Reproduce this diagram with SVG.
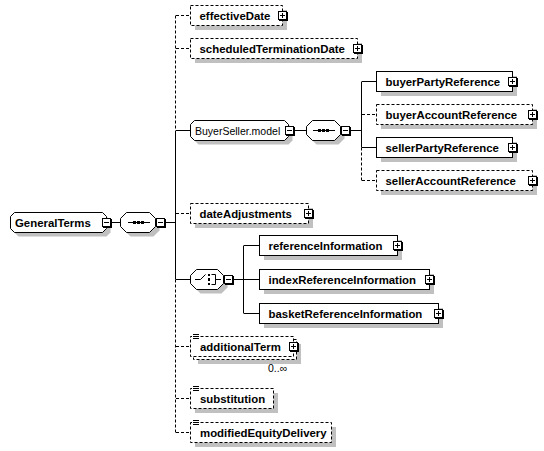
<svg xmlns="http://www.w3.org/2000/svg" width="544" height="451" viewBox="0 0 544 451">
<defs>
<style>
.b{fill:#fff;stroke:#000;stroke-width:1}
.d{stroke-dasharray:3 2}
.s{fill:#c0c0c0;stroke:none}
.l{fill:none;stroke:#000;stroke-width:1}
.t{font-family:"Liberation Sans",Arial,sans-serif;font-size:11.4px;font-weight:bold;fill:#000}
.r{font-family:"Liberation Sans",Arial,sans-serif;font-size:10.5px;fill:#000}
</style>
<g id="plus"><rect x="0.5" y="0.5" width="8" height="8" fill="#fff" stroke="#000"/><path d="M9.5 1v9M1 9.5h9M2 4.5h5M4.5 2v5" stroke="#000" fill="none"/></g>
<g id="minus"><rect x="0.5" y="0.5" width="8" height="8" fill="#fff" stroke="#000"/><path d="M9.5 1v9M1 9.5h9M2 4.5h5" stroke="#000" fill="none"/></g>
<g id="doc"><rect x="0" y="0" width="8" height="6" fill="#fff"/><path d="M1 0.5h6M1 2.5h6M1 4.5h6" stroke="#000" fill="none"/></g>
</defs>
<rect width="544" height="451" fill="#fff"/>

<g id="connectors" class="l">
<path d="M112 222.5H121"/>
<path d="M166 222.5H175.5"/>
<path class="d" d="M175.5 15.5V130.5"/>
<path d="M175.5 130.5V279.5"/>
<path class="d" d="M175.5 279.5V432.5"/>
<path class="d" d="M176 15.5H190M176 48.5H190M176 213.5H190M176 346.5H190M176 398.5H190M176 432.5H190"/>
<path d="M176 130.5H190M176 279.5H190"/>
<path d="M295 130.5H306.5"/>
<path d="M351 130.5H361.5"/>
<path d="M361.5 81.5V147.5M362 81.5H376M362 147.5H376"/>
<path class="d" d="M361.5 147.5V180.5M362 114.5H376M362 180.5H376"/>
<path d="M234 279.5H243.5M243.5 245.5V313.5M244 245.5H259M244 279.5H259M244 313.5H259"/>
</g>

<g id="GeneralTerms">
<polygon class="s" transform="translate(4,4)" points="14.5,212.5 102.5,212.5 106.5,216.5 106.5,228.5 102.5,232.5 14.5,232.5 10.5,228.5 10.5,216.5"/>
<polygon class="b" points="14.5,212.5 102.5,212.5 106.5,216.5 106.5,228.5 102.5,232.5 14.5,232.5 10.5,228.5 10.5,216.5"/>
<text class="t" x="15" y="226.5">GeneralTerms</text>
<use href="#minus" x="102" y="218"/>
</g>

<g id="sequence1">
<polygon class="s" transform="translate(4,4)" points="126.5,212.5 149.5,212.5 155.5,218.5 155.5,226.5 149.5,232.5 126.5,232.5 120.5,226.5 120.5,218.5"/>
<polygon class="b" points="126.5,212.5 149.5,212.5 155.5,218.5 155.5,226.5 149.5,232.5 126.5,232.5 120.5,226.5 120.5,218.5"/>
<path class="l" d="M128 222.5H150"/>
<rect x="133" y="221" width="3" height="3"/><rect x="137" y="221" width="3" height="3"/><rect x="141" y="221" width="3" height="3"/>
<use href="#minus" x="156" y="218"/>
</g>

<g id="effectiveDate">
<rect class="s" x="195" y="10" width="92" height="20"/>
<rect class="b d" x="190.5" y="5.5" width="92" height="20"/>
<text class="t" x="199.5" y="19.5">effectiveDate</text>
<use href="#plus" x="278" y="11"/>
</g>

<g id="scheduledTerminationDate">
<rect class="s" x="195" y="43" width="167" height="20"/>
<rect class="b d" x="190.5" y="38.5" width="167" height="20"/>
<text class="t" x="199.5" y="52.5">scheduledTerminationDate</text>
<use href="#plus" x="353" y="44"/>
</g>

<g id="BuyerSeller.model">
<polygon class="s" transform="translate(4,4)" points="194.5,120.5 284.5,120.5 288.5,124.5 288.5,136.5 284.5,140.5 194.5,140.5 190.5,136.5 190.5,124.5"/>
<polygon class="b" points="194.5,120.5 284.5,120.5 288.5,124.5 288.5,136.5 284.5,140.5 194.5,140.5 190.5,136.5 190.5,124.5"/>
<text class="r" x="195" y="134.5">BuyerSeller.model</text>
<use href="#minus" x="285" y="126"/>
</g>

<g id="sequence2">
<polygon class="s" transform="translate(4,4)" points="312.5,120.5 334.5,120.5 340.5,126.5 340.5,134.5 334.5,140.5 312.5,140.5 306.5,134.5 306.5,126.5"/>
<polygon class="b" points="312.5,120.5 334.5,120.5 340.5,126.5 340.5,134.5 334.5,140.5 312.5,140.5 306.5,134.5 306.5,126.5"/>
<path class="l" d="M313 130.5H335"/>
<rect x="318" y="129" width="3" height="3"/><rect x="322" y="129" width="3" height="3"/><rect x="326" y="129" width="3" height="3"/>
<use href="#minus" x="341" y="126"/>
</g>

<g id="buyerPartyReference">
<rect class="s" x="381" y="76" width="136" height="20"/>
<rect class="b" x="376.5" y="71.5" width="136" height="20"/>
<text class="t" x="385.5" y="85.5">buyerPartyReference</text>
<use href="#plus" x="508" y="77"/>
</g>

<g id="buyerAccountReference">
<rect class="s" x="381" y="109" width="156" height="20"/>
<rect class="b d" x="376.5" y="104.5" width="156" height="20"/>
<text class="t" x="385.5" y="118.5">buyerAccountReference</text>
<use href="#plus" x="528" y="110"/>
</g>

<g id="sellerPartyReference">
<rect class="s" x="381" y="142" width="136" height="20"/>
<rect class="b" x="376.5" y="137.5" width="136" height="20"/>
<text class="t" x="385.5" y="151.5">sellerPartyReference</text>
<use href="#plus" x="508" y="143"/>
</g>

<g id="sellerAccountReference">
<rect class="s" x="381" y="175" width="156" height="20"/>
<rect class="b d" x="376.5" y="170.5" width="156" height="20"/>
<text class="t" x="385.5" y="184.5">sellerAccountReference</text>
<use href="#plus" x="528" y="176"/>
</g>

<g id="dateAdjustments">
<rect class="s" x="195" y="208" width="118" height="20"/>
<rect class="b d" x="190.5" y="203.5" width="118" height="20"/>
<text class="t" x="199.5" y="217.5">dateAdjustments</text>
<use href="#plus" x="304" y="209"/>
</g>

<g id="choice">
<polygon class="s" transform="translate(4,4)" points="196.5,269.5 217.5,269.5 223.5,275.5 223.5,283.5 217.5,289.5 196.5,289.5 190.5,283.5 190.5,275.5"/>
<polygon class="b" points="196.5,269.5 217.5,269.5 223.5,275.5 223.5,283.5 217.5,289.5 196.5,289.5 190.5,283.5 190.5,275.5"/>
<path class="l" d="M195 279.5H200.5L205.5 274.5M211.5 274.5H215.5V284.5H211.5M215.5 279.5H221"/>
<rect x="208" y="274" width="2" height="2"/><rect x="208" y="278" width="2" height="3"/><rect x="208" y="283" width="2" height="2"/>
<use href="#minus" x="224" y="275"/>
</g>

<g id="referenceInformation">
<rect class="s" x="264" y="240" width="138" height="20"/>
<rect class="b" x="259.5" y="235.5" width="138" height="20"/>
<text class="t" x="268.5" y="249.5">referenceInformation</text>
<use href="#plus" x="393" y="241"/>
</g>

<g id="indexReferenceInformation">
<rect class="s" x="264" y="274" width="170" height="20"/>
<rect class="b" x="259.5" y="269.5" width="170" height="20"/>
<text class="t" x="268.5" y="283.5">indexReferenceInformation</text>
<use href="#plus" x="425" y="275"/>
</g>

<g id="basketReferenceInformation">
<rect class="s" x="264" y="308" width="179" height="20"/>
<rect class="b" x="259.5" y="303.5" width="179" height="20"/>
<text class="t" x="268.5" y="317.5">basketReferenceInformation</text>
<use href="#plus" x="434" y="309"/>
</g>

<g id="additionalTerm">
<rect class="s" x="198" y="344" width="103" height="20"/>
<rect class="b d" x="193.5" y="339.5" width="103" height="20"/>
<rect class="b d" x="190.5" y="336.5" width="103" height="20"/>
<use href="#doc" x="192" y="334"/>
<text class="t" x="200" y="350.5">additionalTerm</text>
<use href="#plus" x="289" y="342"/>
<text class="r" x="268" y="372">0..∞</text>
</g>

<g id="substitution">
<rect class="s" x="195" y="393" width="83" height="20"/>
<rect class="b d" x="190.5" y="388.5" width="83" height="20"/>
<use href="#doc" x="192" y="386"/>
<text class="t" x="200" y="402.5">substitution</text>
</g>

<g id="modifiedEquityDelivery">
<rect class="s" x="195" y="427" width="141" height="20"/>
<rect class="b d" x="190.5" y="422.5" width="141" height="20"/>
<use href="#doc" x="192" y="420"/>
<text class="t" x="200" y="436.5">modifiedEquityDelivery</text>
</g>
</svg>
